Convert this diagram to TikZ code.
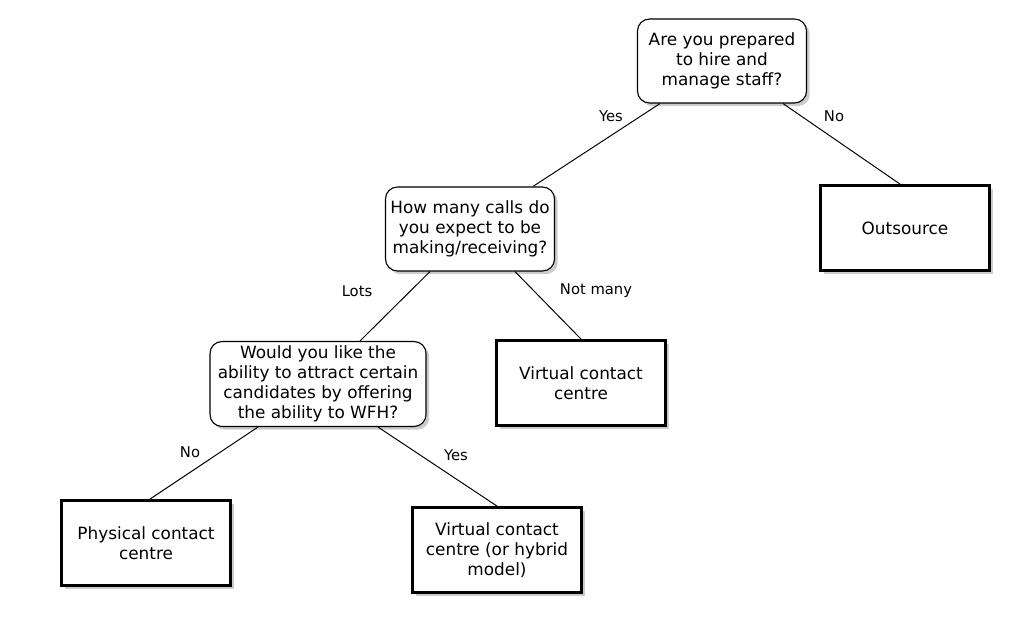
\documentclass[tikz,border=0pt]{standalone}
\usepackage{fontspec}
\setmainfont{DejaVu Sans}
\usepackage{tikz}
\usetikzlibrary{shapes,shadows,positioning}

\begin{document}
\begin{tikzpicture}[x=0.025cm, y=-0.025cm,
  every node/.style={font=\fontsize{12pt}{14.2pt}\selectfont},
  question/.style={draw, line width=0.8pt, rounded corners=0.3cm, fill=white, align=center, minimum width=4.225cm, minimum height=2.1cm, inner sep=0pt, drop shadow={shadow xshift=0.08cm, shadow yshift=-0.08cm, fill=black!40}},
  answer/.style={draw, line width=2pt, fill=white, align=center, minimum width=4.225cm, minimum height=2.125cm, inner sep=0pt, drop shadow={shadow xshift=0.08cm, shadow yshift=-0.08cm, fill=black!40}},
  lbl/.style={font=\fontsize{10.5pt}{12pt}\selectfont},
  line/.style={line width=0.7pt}]
\useasboundingbox (0,0) rectangle (1024,628);

\node (staff) [question] at (722,61) {Are you prepared\\to hire and\\manage staff?};
\node (calls) [question] at (470,229) {How many calls do\\you expect to be\\making/receiving?};
\node (wfh) [question, minimum width=5.4cm, minimum height=2.125cm] at (318,384) {Would you like the\\ability to attract certain\\candidates by offering\\the ability to WFH?};

\node (outsource) [answer] at (905,228) {Outsource};
\node (virtual) [answer] at (581,383) {Virtual contact\\centre};
\node (physical) [answer] at (146,543) {Physical contact\\centre};
\node (hybrid) [answer] at (497,550) {Virtual contact\\centre (or hybrid\\model)};

\draw[line] ([xshift=-1.55cm]staff.south) -- ([xshift=1.575cm]calls.north);
\draw[line] ([xshift=1.525cm]staff.south) -- ([xshift=-0.125cm]outsource.north);
\draw[line] ([xshift=-1cm]calls.south) -- ([xshift=1.05cm]wfh.north);
\draw[line] ([xshift=1.125cm]calls.south) -- (virtual.north);
\draw[line] ([xshift=-1.5cm]wfh.south) -- ([xshift=0.1cm]physical.north);
\draw[line] ([xshift=1.5cm]wfh.south) -- (hybrid.north);

\node (yes1) [lbl] at (611,116) {Yes};
\node (no1) [lbl] at (834,116) {No};
\node (lots) [lbl] at (357,291) {Lots};
\node (notmany) [lbl] at (596,291) {Not many};
\node (no2) [lbl] at (190,452) {No};
\node (yes2) [lbl] at (456,455) {Yes};
\end{tikzpicture}
\end{document}
